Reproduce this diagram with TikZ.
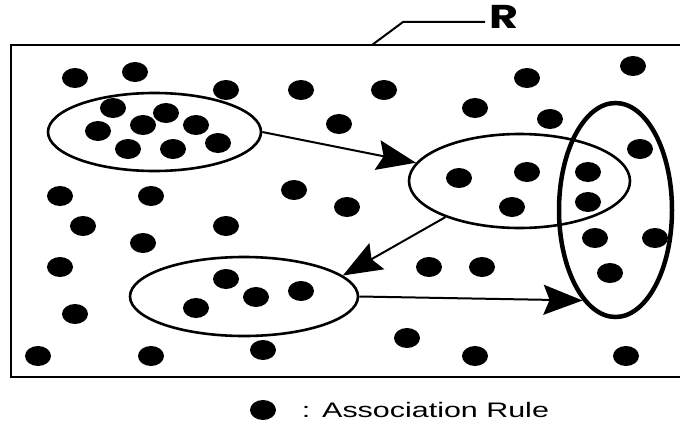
\documentclass[tikz,border=0pt]{standalone}
\usepackage{fontspec}
\usepackage{graphicx}
\setmainfont{Liberation Sans}
\newfontfamily\rfont{Poppins}
\usetikzlibrary{shapes.geometric,arrows.meta}
\begin{document}
\begin{tikzpicture}[x=1pt,y=-1pt,
  dot/.style={ellipse,fill=black,minimum width=26pt,minimum height=20pt,inner sep=0pt},
  grp/.style={ellipse,draw=black,line width=2.6pt,inner sep=0pt},
  arr/.style={line width=2pt,-{Stealth[length=39pt,width=30pt,inset=6pt]}},
  frame/.style={line width=2pt}]
\useasboundingbox (0,0) rectangle (680,428);
% frame
\draw[frame] (682,45) -- (11,45) -- (11,377) -- (682,377);
% groups
\node[grp,minimum width=213pt,minimum height=78pt] (E1) at (154.5,132) {};
\node[grp,minimum width=221pt,minimum height=94pt] (E2) at (519.5,181) {};
\node[grp,minimum width=228pt,minimum height=79pt] (E3) at (244,296.5) {};
\node[grp,line width=4.5pt,minimum width=113pt,minimum height=214pt] (E4) at (615.5,210) {};
% dots
\foreach \p [count=\i] in {(75,78),(135,72),(226,90),(301,90),(384,90),(527,78),(633,66),
  (475,108),(550,119),(339,124),
  (113,108),(166,113),(98,131),(143,125),(196,125),(128,149),(173,149),(218,143),
  (640,149),
  (459,178),(527,172),(512,207),(588,172),(588,202),
  (60,196),(151,196),(294,190),(347,207),
  (83,226),(226,226),(143,243),
  (595,238),(655,238),
  (60,267),(429,267),(482,267),(610,273),
  (226,279),(256,297),(301,291),(196,308),
  (75,314),(407,338),
  (38,356),(151,356),(263,350),(475,356),(626,356)}
  \node[dot] (d\i) at \p {};
% arrows
\draw[arr] (E1.east) -- (E2.170);
\draw[arr] (E2.206) -- (E3.12);
\draw[arr] (E3.east) -- (E4.250);
% label R
\coordinate (r1) at (372,45);
\coordinate (r2) at (403,22);
\coordinate (r3) at (485,22);
\draw[line width=2pt] (r1) -- (r2) -- (r3);
\node[anchor=base west,inner sep=0pt] (R) at (489,29) {\scalebox{1.35}[1]{\rfont\fontsize{33}{33}\selectfont\bfseries R}};
% legend
\node[dot] (ld) at (263,410) {};
\node[anchor=base,inner sep=0pt] (lc) at (306,417) {\scalebox{1.45}[1]{\fontsize{21}{21}\selectfont :}};
\node[anchor=base west,inner sep=0pt] (lt) at (322,417) {\scalebox{1.45}[1]{\fontsize{21}{21}\selectfont Association Rule}};
\end{tikzpicture}
\end{document}
